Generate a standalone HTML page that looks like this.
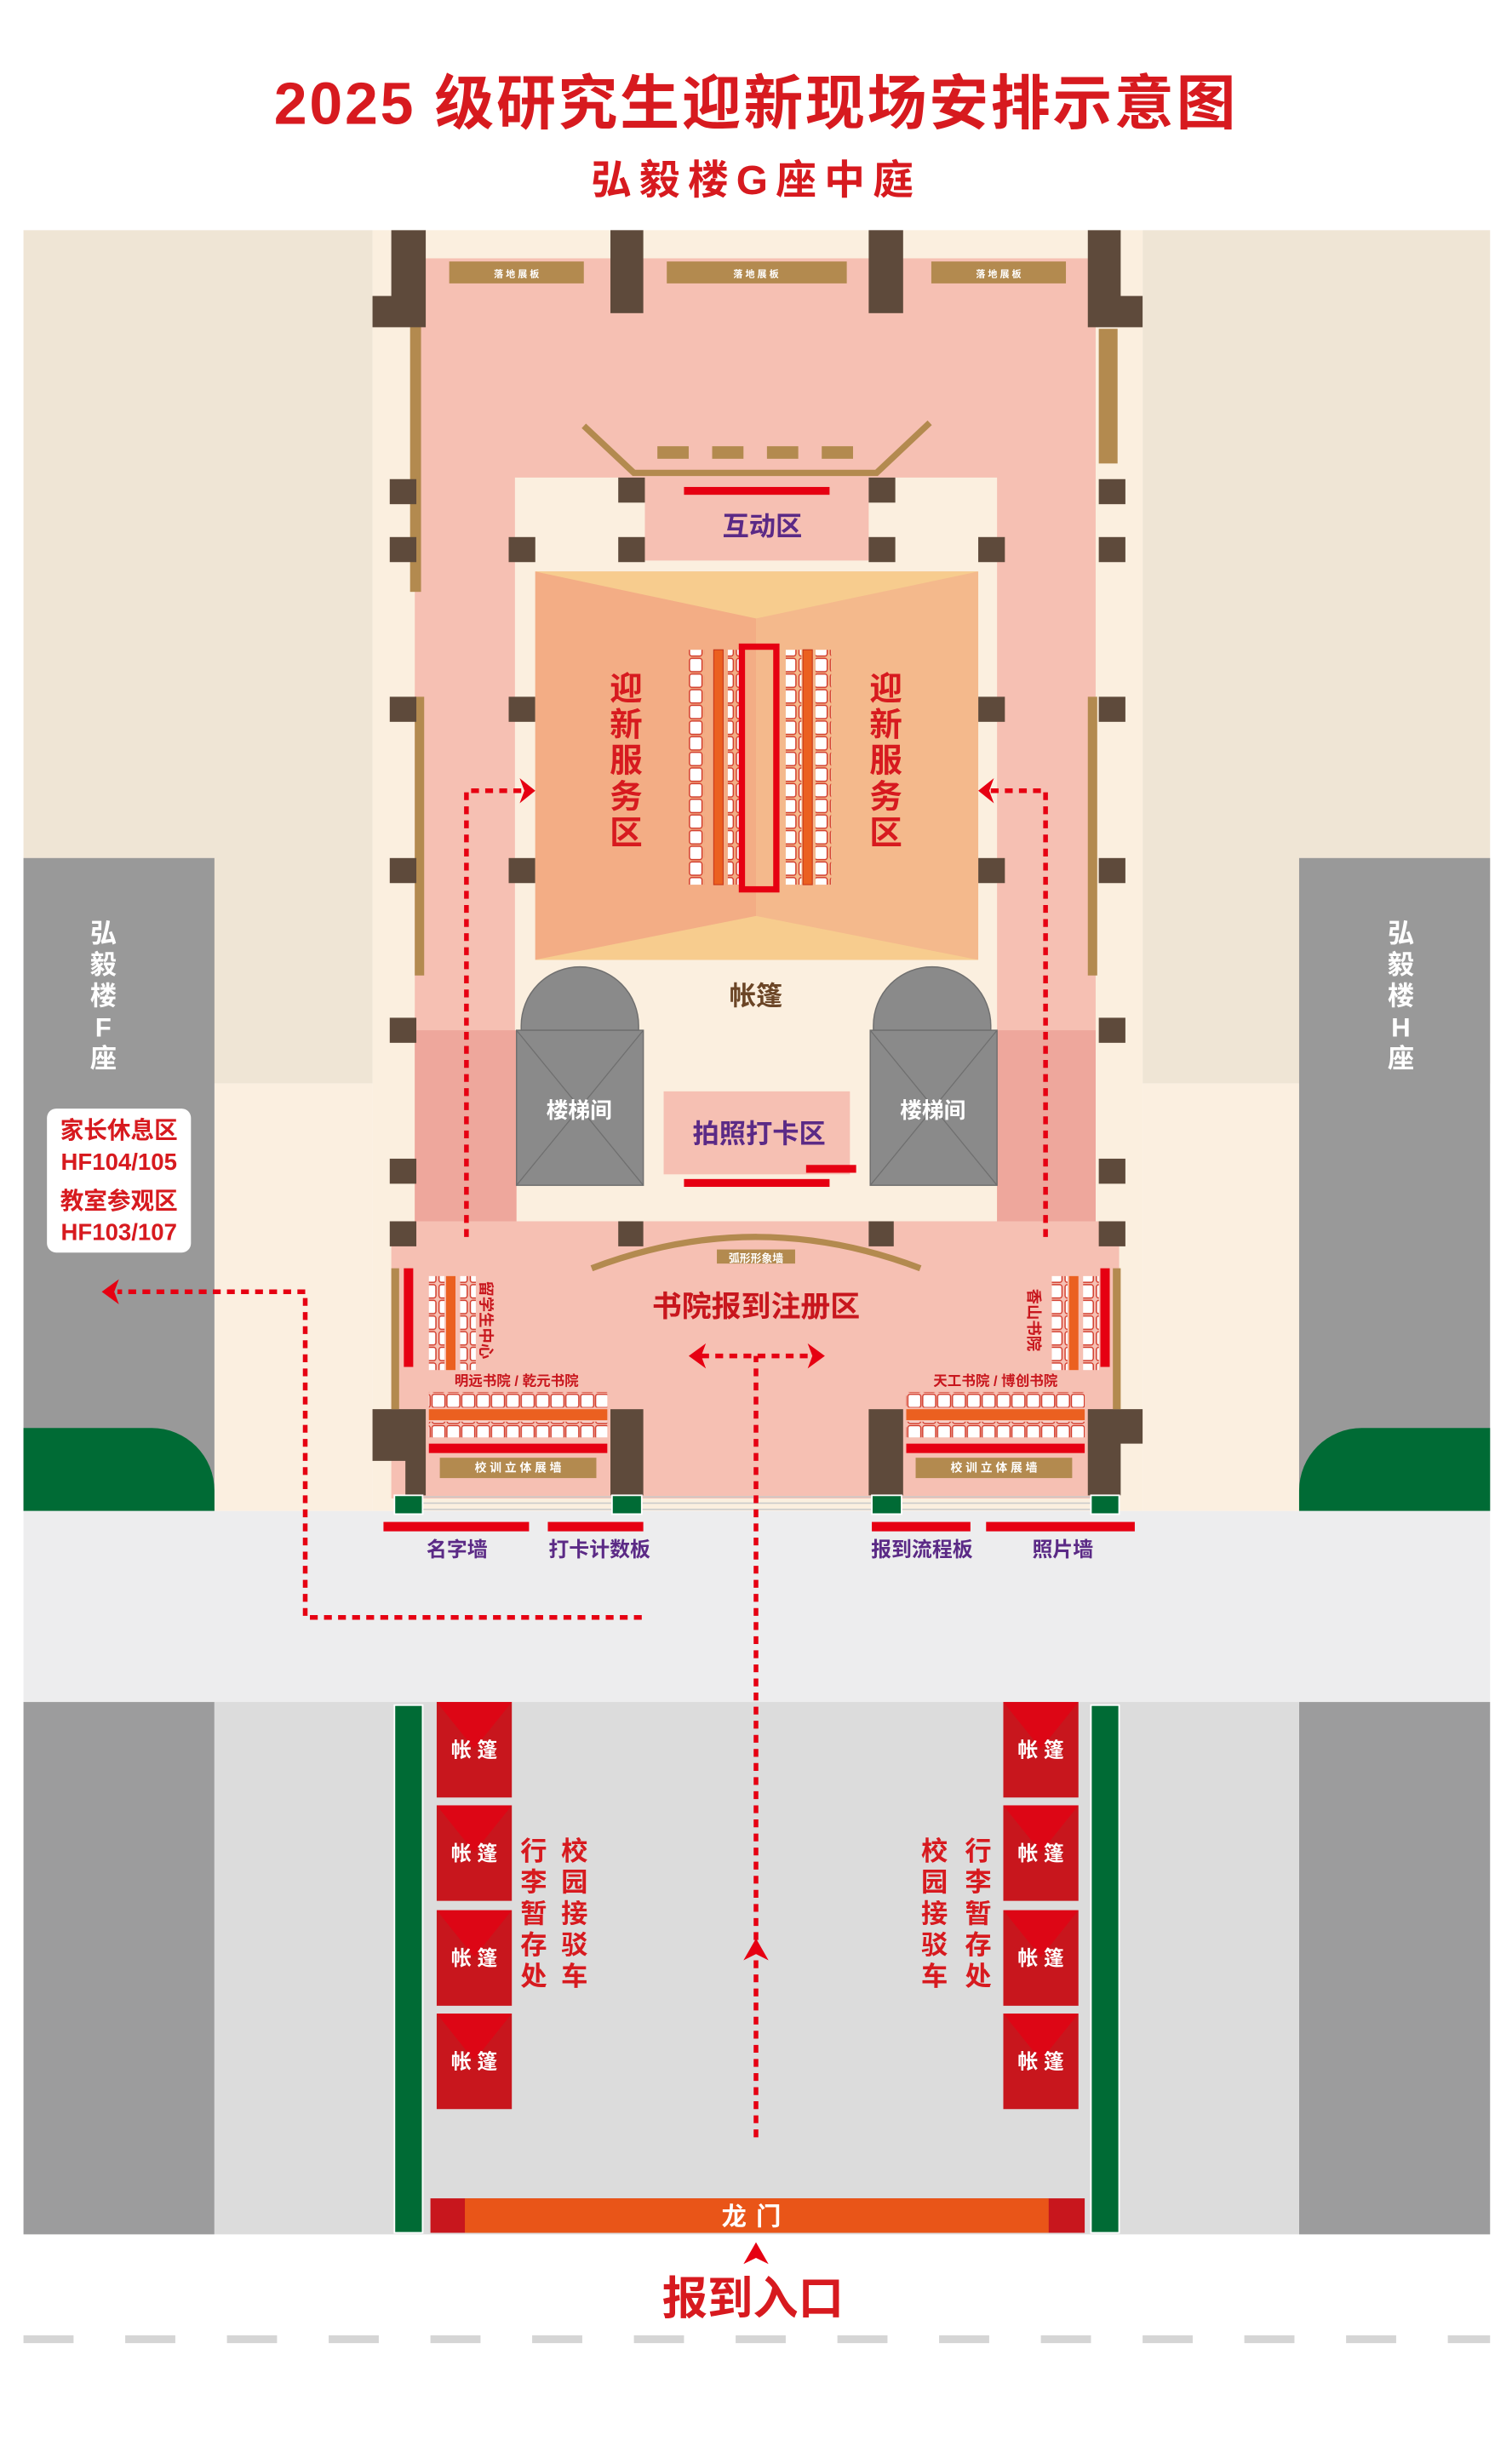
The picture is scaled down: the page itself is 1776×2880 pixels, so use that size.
<!DOCTYPE html>
<html><head><meta charset="utf-8"><style>
html,body{margin:0;padding:0;background:#fff;}
svg{display:block;}
text{font-family:"Liberation Sans","Noto Sans CJK SC",sans-serif;font-weight:bold;}
</style></head><body>
<svg width="1776" height="2880" viewBox="0 0 966 1566" preserveAspectRatio="none" xmlns="http://www.w3.org/2000/svg">
<defs>
<pattern id="seatV" x="0" y="0" width="10" height="10" patternUnits="userSpaceOnUse"><rect x="0.5" y="0.5" width="8" height="8.5" rx="1.5" fill="#fff" stroke="#d23a2a" stroke-width="0.8"/></pattern>
<pattern id="seatH" x="0" y="0" width="9.5" height="10" patternUnits="userSpaceOnUse"><rect x="0.5" y="0.5" width="8.3" height="8.5" rx="1.5" fill="#fff" stroke="#d23a2a" stroke-width="0.8"/></pattern>
</defs>
<rect width="966" height="1566" fill="#fff"/>
<text x="483" y="79" font-size="38" fill="#d71a1f" text-anchor="middle" letter-spacing="1.5">2025 级研究生迎新现场安排示意图</text>
<text x="483" y="124" font-size="26" fill="#d71a1f" text-anchor="middle" letter-spacing="5">弘毅楼G座中庭</text>

<rect x="15" y="147" width="223" height="545" fill="#efe5d5"/>
<rect x="730" y="147" width="222" height="545" fill="#efe5d5"/>
<rect x="137" y="692" width="101" height="273" fill="#fbefe0"/>
<rect x="730" y="692" width="100" height="273" fill="#fbefe0"/>
<rect x="238" y="147" width="492" height="818" fill="#fbefdf"/>
<rect x="265" y="165" width="435" height="615" fill="#f6c0b3"/>
<rect x="329" y="305" width="308" height="475" fill="#fbefdf"/>
<rect x="265" y="658" width="65" height="122" fill="#eea79c"/>
<rect x="637" y="658" width="63" height="122" fill="#eea79c"/>
<rect x="412" y="305" width="143" height="53" fill="#f6c0b3"/>
<rect x="250" y="780" width="465" height="177" fill="#f6c0b3"/>

<rect x="15" y="548" width="122" height="417" fill="#999"/>
<rect x="830" y="548" width="122" height="417" fill="#999"/>
<path d="M15 912 H97 A40 40 0 0 1 137 952 V965 H15 Z" fill="#006b35"/>
<path d="M952 912 H870 A40 40 0 0 0 830 952 V965 H952 Z" fill="#006b35"/>
<g font-size="17" fill="#fff" text-anchor="middle">
<text x="66" y="602">弘</text><text x="66" y="622">毅</text><text x="66" y="642">楼</text><text x="66" y="662">F</text><text x="66" y="682">座</text>
<text x="895" y="602">弘</text><text x="895" y="622">毅</text><text x="895" y="642">楼</text><text x="895" y="662">H</text><text x="895" y="682">座</text>
</g>
<rect x="30" y="708" width="92" height="92" rx="6" fill="#fff"/>
<g font-size="15" fill="#d71a1f" text-anchor="middle">
<text x="76" y="727">家长休息区</text><text x="76" y="747">HF104/105</text>
<text x="76" y="772">教室参观区</text><text x="76" y="792">HF103/107</text>
</g>

<rect x="15" y="965" width="937" height="122" fill="#ededee"/>
<rect x="15" y="1087" width="122" height="340" fill="#9c9c9d"/>
<rect x="830" y="1087" width="122" height="340" fill="#9c9c9d"/>
<rect x="137" y="1087" width="693" height="340" fill="#dcdcdc"/>

<g fill="#b38a4f">
<rect x="287" y="167" width="86" height="14"/><rect x="426" y="167" width="115" height="14"/><rect x="595" y="167" width="86" height="14"/>
<rect x="262" y="200" width="7" height="178"/><rect x="702" y="210" width="12" height="86"/>
<rect x="265" y="445" width="6" height="178"/><rect x="695" y="445" width="6" height="178"/>
<rect x="420" y="285" width="20" height="8"/><rect x="455" y="285" width="20" height="8"/><rect x="490" y="285" width="20" height="8"/><rect x="525" y="285" width="20" height="8"/>
</g>
<g font-size="6" fill="#fff" text-anchor="middle">
<text x="330" y="177">落 地 展 板</text><text x="483" y="177">落 地 展 板</text><text x="638" y="177">落 地 展 板</text>
</g>
<polyline points="373,272 405,302 560,302 594,270" fill="none" stroke="#b38a4f" stroke-width="4"/>
<rect x="437" y="311" width="93" height="5" fill="#e60012"/>
<text x="487" y="342" font-size="17" fill="#5b2a86" text-anchor="middle">互动区</text>

<g fill="#5e4a3b">
<path d="M250 147h22v62h-34v-20h12z"/>
<rect x="390" y="147" width="21" height="53"/><rect x="555" y="147" width="22" height="53"/>
<path d="M695 147h21v42h14v20h-35z"/>
<rect x="249" y="306" width="17" height="16"/><rect x="249" y="343" width="17" height="16"/><rect x="249" y="445" width="17" height="16"/><rect x="249" y="548" width="17" height="16"/><rect x="249" y="650" width="17" height="16"/><rect x="249" y="740" width="17" height="16"/><rect x="249" y="780" width="17" height="16"/>
<rect x="702" y="306" width="17" height="16"/><rect x="702" y="343" width="17" height="16"/><rect x="702" y="445" width="17" height="16"/><rect x="702" y="548" width="17" height="16"/><rect x="702" y="650" width="17" height="16"/><rect x="702" y="740" width="17" height="16"/><rect x="702" y="780" width="17" height="16"/>
<rect x="395" y="305" width="17" height="16"/><rect x="555" y="305" width="17" height="16"/>
<rect x="325" y="343" width="17" height="16"/><rect x="395" y="343" width="17" height="16"/><rect x="555" y="343" width="17" height="16"/><rect x="625" y="343" width="17" height="16"/>
<rect x="325" y="445" width="17" height="16"/><rect x="625" y="445" width="17" height="16"/><rect x="325" y="548" width="17" height="16"/><rect x="625" y="548" width="17" height="16"/>
<rect x="395" y="780" width="16" height="16"/><rect x="555" y="780" width="16" height="16"/>
<path d="M238 900h34v55h-13v-22h-21z"/>
<rect x="390" y="900" width="21" height="55"/><rect x="555" y="900" width="22" height="55"/>
<path d="M695 900h35v22h-14v33h-21z"/>
</g>

<polygon points="342,365 625,365 625,613 342,613" fill="#f4b98c"/>
<polygon points="342,365 483,395 483,585 342,613" fill="#f3ad85"/>
<polygon points="342,365 625,365 483,395" fill="#f7cc8e"/>
<polygon points="342,613 625,613 483,585" fill="#f7cc8e"/>
<rect x="440" y="415" width="10" height="150" fill="url(#seatV)"/>
<rect x="456" y="415" width="6" height="150" fill="#eb6020" stroke="#c8361a" stroke-width="0.6"/>
<rect x="465" y="415" width="10" height="150" fill="url(#seatV)"/>
<rect x="474" y="413" width="22" height="155" fill="none" stroke="#e60012" stroke-width="4"/>
<rect x="502" y="415" width="10" height="150" fill="url(#seatV)"/>
<rect x="513" y="415" width="6" height="150" fill="#eb6020" stroke="#c8361a" stroke-width="0.6"/>
<rect x="521" y="415" width="10" height="150" fill="url(#seatV)"/>
<g font-size="21" fill="#d71a1f" text-anchor="middle">
<text x="400" y="447">迎</text><text x="400" y="470">新</text><text x="400" y="493">服</text><text x="400" y="516">务</text><text x="400" y="539">区</text>
<text x="566" y="447">迎</text><text x="566" y="470">新</text><text x="566" y="493">服</text><text x="566" y="516">务</text><text x="566" y="539">区</text>
</g>
<text x="483" y="642" font-size="17" fill="#6b4526" text-anchor="middle">帐篷</text>

<g fill="#8a8a8a" stroke="#6f6f6f" stroke-width="0.8">
<path d="M333 658 V655 A37 37 0 0 1 408 655 V658 Z"/>
<rect x="330" y="658" width="81" height="99"/>
<path d="M558 658 V655 A37 37 0 0 1 633 655 V658 Z"/>
<rect x="556" y="658" width="81" height="99"/>
</g>
<g stroke="#6f6f6f" stroke-width="0.7"><line x1="330" y1="658" x2="411" y2="757"/><line x1="411" y1="658" x2="330" y2="757"/><line x1="556" y1="658" x2="637" y2="757"/><line x1="637" y1="658" x2="556" y2="757"/></g>
<text x="370" y="714" font-size="14" fill="#fff" text-anchor="middle">楼梯间</text>
<text x="596" y="714" font-size="14" fill="#fff" text-anchor="middle">楼梯间</text>
<rect x="424" y="697" width="119" height="53" fill="#f6c0b3"/>
<rect x="437" y="753" width="93" height="5" fill="#e60012"/>
<rect x="515" y="744" width="32" height="5" fill="#e60012"/>
<text x="485" y="730" font-size="17" fill="#5b2a86" text-anchor="middle">拍照打卡区</text>

<path d="M378 810 Q483 770 588 810" fill="none" stroke="#b38a4f" stroke-width="4"/>
<rect x="458" y="798" width="50" height="9" fill="#b38a4f"/>
<text x="483" y="806" font-size="7" fill="#fff" text-anchor="middle">弧形形象墙</text>
<text x="483" y="841" font-size="19" fill="#c8161d" text-anchor="middle">书院报到注册区</text>
<rect x="258" y="810" width="6" height="63" fill="#e60012"/>
<rect x="250" y="810" width="5" height="90" fill="#b38a4f"/>
<rect x="274" y="815" width="10" height="60" fill="url(#seatV)"/>
<rect x="285" y="815" width="6" height="60" fill="#eb6020"/>
<rect x="294" y="815" width="10" height="60" fill="url(#seatV)"/>
<text transform="translate(307,843) rotate(90)" font-size="10" fill="#c8161d" text-anchor="middle">留学生中心</text>
<text x="330" y="885" font-size="9" fill="#c8161d" text-anchor="middle">明远书院 / 乾元书院</text>
<rect x="274" y="889" width="114" height="10" fill="url(#seatH)"/>
<rect x="274" y="900" width="114" height="7" fill="#eb6020"/>
<rect x="274" y="908" width="114" height="10" fill="url(#seatH)"/>
<rect x="274" y="922" width="114" height="6" fill="#e60012"/>
<rect x="281" y="931" width="100" height="13" fill="#b38a4f"/>
<text x="331" y="940" font-size="7.5" fill="#fff" text-anchor="middle">校 训 立 体 展 墙</text>
<rect x="703" y="810" width="6" height="63" fill="#e60012"/>
<rect x="711" y="810" width="5" height="90" fill="#b38a4f"/>
<rect x="672" y="815" width="10" height="60" fill="url(#seatV)"/>
<rect x="683" y="815" width="6" height="60" fill="#eb6020"/>
<rect x="692" y="815" width="10" height="60" fill="url(#seatV)"/>
<text transform="translate(657,843) rotate(90)" font-size="10" fill="#c8161d" text-anchor="middle">香山书院</text>
<text x="636" y="885" font-size="9" fill="#c8161d" text-anchor="middle">天工书院 / 博创书院</text>
<rect x="579" y="889" width="114" height="10" fill="url(#seatH)"/>
<rect x="579" y="900" width="114" height="7" fill="#eb6020"/>
<rect x="579" y="908" width="114" height="10" fill="url(#seatH)"/>
<rect x="579" y="922" width="114" height="6" fill="#e60012"/>
<rect x="585" y="931" width="100" height="13" fill="#b38a4f"/>
<text x="635" y="940" font-size="7.5" fill="#fff" text-anchor="middle">校 训 立 体 展 墙</text>

<g stroke="#c9c9c9" stroke-width="0.8"><line x1="252" y1="956" x2="715" y2="956"/><line x1="252" y1="960" x2="715" y2="960"/><line x1="252" y1="964" x2="715" y2="964"/></g>
<g fill="#006b35" stroke="#fff" stroke-width="1"><rect x="252" y="955" width="18" height="12"/><rect x="391" y="955" width="19" height="12"/><rect x="557" y="955" width="19" height="12"/><rect x="697" y="955" width="18" height="12"/></g>
<g fill="#e60012"><rect x="245" y="972" width="93" height="6"/><rect x="350" y="972" width="61" height="6"/><rect x="557" y="972" width="63" height="6"/><rect x="630" y="972" width="95" height="6"/></g>
<g font-size="13" fill="#5b2a86" text-anchor="middle"><text x="292" y="994">名字墙</text><text x="383" y="994">打卡计数板</text><text x="589" y="994">报到流程板</text><text x="679" y="994">照片墙</text></g>

<g fill="none" stroke="#e60012" stroke-width="3" stroke-dasharray="5,4">
<polyline points="298,790 298,505 335,505"/>
<polyline points="668,790 668,505 632,505"/>
<polyline points="410,1033 195,1033 195,825 75,825"/>
<line x1="483" y1="1365" x2="483" y2="866"/>
<line x1="448" y1="866" x2="520" y2="866"/>
</g>
<g fill="#e60012">
<polygon points="342,505 332,497 335,505 332,513"/>
<polygon points="625,505 635,497 632,505 635,513"/>
<polygon points="65,825 76,817 73,825 76,833"/>
<polygon points="440,866 451,858 448,866 451,874"/>
<polygon points="527,866 516,858 519,866 516,874"/>
<polygon points="483,1238 475,1252 483,1248 491,1252"/>
<polygon points="483,1432 475,1446 483,1442 491,1446"/>
</g>

<rect x="252" y="1089" width="18" height="337" fill="#006b35" stroke="#fff" stroke-width="1"/>
<rect x="697" y="1089" width="18" height="337" fill="#006b35" stroke="#fff" stroke-width="1"/>
<g>
<rect x="279" y="1087" width="48" height="61" fill="#c8161d"/><rect x="279" y="1153" width="48" height="61" fill="#c8161d"/><rect x="279" y="1220" width="48" height="61" fill="#c8161d"/><rect x="279" y="1286" width="48" height="61" fill="#c8161d"/>
<rect x="641" y="1087" width="48" height="61" fill="#c8161d"/><rect x="641" y="1153" width="48" height="61" fill="#c8161d"/><rect x="641" y="1220" width="48" height="61" fill="#c8161d"/><rect x="641" y="1286" width="48" height="61" fill="#c8161d"/>
</g>
<g fill="#e60012" opacity="0.7">
<polygon points="279,1087 327,1087 303,1117"/><polygon points="279,1153 327,1153 303,1183"/><polygon points="279,1220 327,1220 303,1250"/><polygon points="279,1286 327,1286 303,1316"/>
<polygon points="641,1087 689,1087 665,1117"/><polygon points="641,1153 689,1153 665,1183"/><polygon points="641,1220 689,1220 665,1250"/><polygon points="641,1286 689,1286 665,1316"/>
</g>
<g font-size="13" fill="#fff" text-anchor="middle">
<text x="303" y="1122">帐 篷</text><text x="303" y="1188">帐 篷</text><text x="303" y="1255">帐 篷</text><text x="303" y="1321">帐 篷</text>
<text x="665" y="1122">帐 篷</text><text x="665" y="1188">帐 篷</text><text x="665" y="1255">帐 篷</text><text x="665" y="1321">帐 篷</text>
</g>
<g font-size="17" fill="#d71a1f" text-anchor="middle">
<text x="341" y="1188">行</text><text x="341" y="1208">李</text><text x="341" y="1228">暂</text><text x="341" y="1248">存</text><text x="341" y="1268">处</text>
<text x="367" y="1188">校</text><text x="367" y="1208">园</text><text x="367" y="1228">接</text><text x="367" y="1248">驳</text><text x="367" y="1268">车</text>
<text x="597" y="1188">校</text><text x="597" y="1208">园</text><text x="597" y="1228">接</text><text x="597" y="1248">驳</text><text x="597" y="1268">车</text>
<text x="625" y="1188">行</text><text x="625" y="1208">李</text><text x="625" y="1228">暂</text><text x="625" y="1248">存</text><text x="625" y="1268">处</text>
</g>
<rect x="275" y="1404" width="418" height="22" fill="#c8161d"/>
<rect x="297" y="1404" width="373" height="22" fill="#e95518"/>
<text x="483" y="1421" font-size="16" fill="#fff" text-anchor="middle" letter-spacing="6">龙门</text>
<text x="481" y="1478" font-size="29" fill="#d71a1f" text-anchor="middle">报到入口</text>
<line x1="15" y1="1494" x2="952" y2="1494" stroke="#d5d5d5" stroke-width="5" stroke-dasharray="32,33"/>
</svg>
</body></html>
